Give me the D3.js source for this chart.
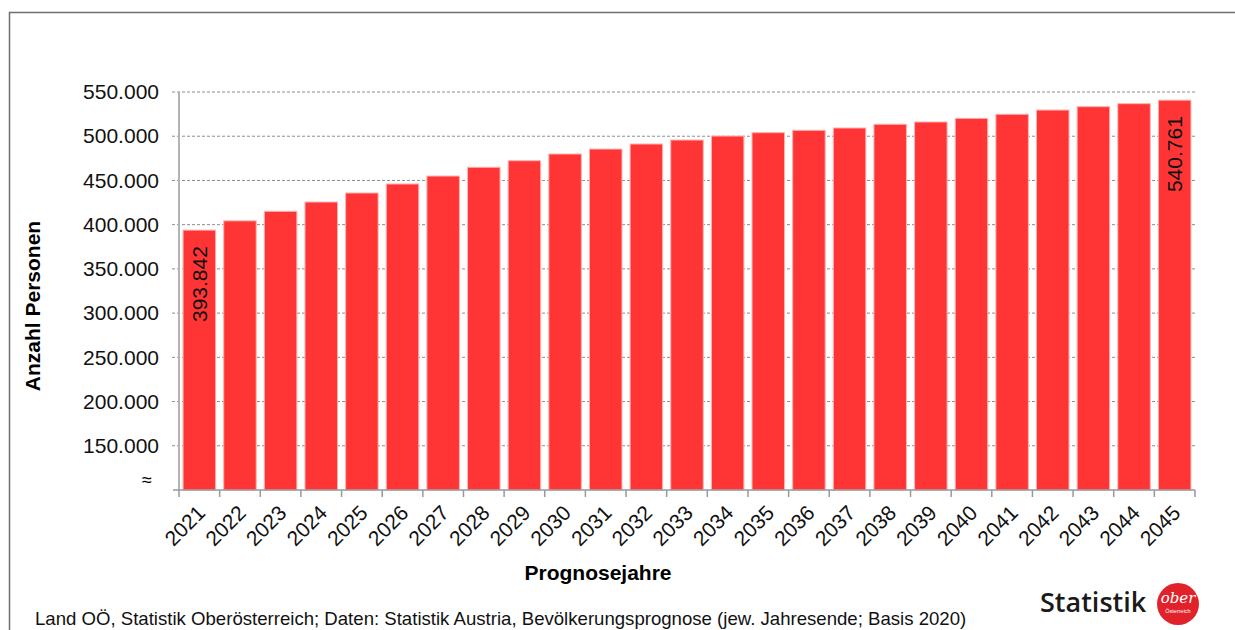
<!DOCTYPE html>
<html>
<head>
<meta charset="utf-8">
<script src="https://cdn.jsdelivr.net/npm/d3@7/dist/d3.min.js"></script>
<style>
  body { margin: 0; background: #fff; }
  svg { display: block; font-family: "Liberation Sans", Arial, sans-serif; }
</style>
</head>
<body>
<svg id="chart" width="1235" height="630"></svg>
<script>
// Prognosejahre und Bevölkerung (Oberösterreich)
const years = ["2021", "2022", "2023", "2024", "2025", "2026", "2027", "2028", "2029", "2030",
  "2031", "2032", "2033", "2034", "2035", "2036", "2037", "2038", "2039", "2040",
  "2041", "2042", "2043", "2044", "2045"];
const persons = [393842, 404300, 415100, 425600, 435800, 446000, 455000, 464900, 472300, 479900,
  485500, 491200, 495700, 500200, 504000, 506700, 509300, 513500, 516100, 520200,
  524800, 529600, 533400, 536800, 540761];
const yTicks = [150000, 200000, 250000, 300000, 350000, 400000, 450000, 500000, 550000];
const labelled = ["2021", "2045"];

const de = d3.formatLocale({ decimal: ",", thousands: ".", grouping: [3], currency: ["", " €"] });
const fmt = de.format(",.0f");

const svg = d3.select("#chart");

// Rahmen
svg.append("rect")
  .attr("x", 9.5).attr("y", 12.5)
  .attr("width", 1400).attr("height", 800)
  .attr("fill", "none")
  .attr("stroke", "#6e6e6e")
  .attr("stroke-width", 1.5);

const plotLeft = 179, plotRight = 1195, plotTop = 92, plotBottom = 490;

const x = d3.scaleBand()
  .domain(years)
  .range([plotLeft, plotRight])
  .paddingInner(0.2)
  .paddingOuter(0.1);

const y = d3.scaleLinear()
  .domain([100000, 550000])
  .range([plotBottom, plotTop]);

// Gitternetz
svg.append("g")
  .selectAll("line")
  .data(yTicks)
  .enter()
  .append("line")
  .attr("x1", plotLeft - 7)
  .attr("x2", plotRight)
  .attr("y1", d => y(d))
  .attr("y2", d => y(d))
  .attr("stroke", "#8c8c8c")
  .attr("stroke-width", 1)
  .attr("stroke-dasharray", "3,2");

// y-Achse
const yAxis = svg.append("g")
  .attr("transform", "translate(" + plotLeft + ",0)")
  .call(d3.axisLeft(y).tickValues(yTicks).tickFormat(fmt).tickSize(0).tickPadding(20));
yAxis.select(".domain").remove();
yAxis.selectAll("text")
  .style("font-size", "21px")
  .attr("fill", "#111");

svg.append("line")
  .attr("x1", plotLeft).attr("x2", plotLeft)
  .attr("y1", plotTop).attr("y2", plotBottom)
  .attr("stroke", "#b3b3b3")
  .attr("stroke-width", 2);

svg.append("text")
  .attr("x", plotLeft - 32)
  .attr("y", y(110000))
  .attr("text-anchor", "middle")
  .attr("dominant-baseline", "middle")
  .style("font-size", "18px")
  .text("≈");

// Balken
svg.selectAll(".bar")
  .data(years)
  .enter()
  .append("rect")
  .attr("class", "bar")
  .attr("x", d => x(d))
  .attr("y", (d, i) => y(persons[i]))
  .attr("width", x.bandwidth())
  .attr("height", (d, i) => plotBottom - y(persons[i]))
  .attr("fill", "#ff3535")
  .attr("stroke", "#ffb0b0")
  .attr("stroke-width", 1);

// x-Achse
const step = x.step();
const xAxis = svg.append("g")
  .attr("transform", "translate(0," + plotBottom + ")");
xAxis.append("line")
  .attr("x1", plotLeft - 6).attr("x2", plotRight)
  .attr("stroke", "#999").attr("stroke-width", 1.5);
xAxis.selectAll(".tick-mark")
  .data(d3.range(years.length + 1))
  .enter()
  .append("line")
  .attr("class", "tick-mark")
  .attr("x1", i => plotLeft + i * step)
  .attr("x2", i => plotLeft + i * step)
  .attr("y1", 0).attr("y2", 7)
  .attr("stroke", "#999").attr("stroke-width", 1.5);

xAxis.selectAll(".xlab")
  .data(years)
  .enter()
  .append("text")
  .attr("class", "xlab")
  .attr("transform", d => "translate(" + (x(d) + x.bandwidth() / 2 + 2) + ",19) rotate(-45)")
  .attr("text-anchor", "end")
  .attr("dy", "0.35em")
  .style("font-size", "21px")
  .attr("fill", "#111")
  .text(d => d);

// Datenbeschriftung
svg.selectAll(".value-label")
  .data(years.filter(d => labelled.includes(d)))
  .enter()
  .append("text")
  .attr("class", "value-label")
  .attr("transform", d => "translate(" + (x(d) + x.bandwidth() / 2) + "," + (y(persons[years.indexOf(d)]) + 16) + ") rotate(-90)")
  .attr("text-anchor", "end")
  .attr("dy", "0.36em")
  .style("font-size", "21px")
  .attr("fill", "#111")
  .text(d => fmt(persons[years.indexOf(d)]));

// Achsentitel
svg.append("text")
  .attr("transform", "translate(40,306) rotate(-90)")
  .attr("text-anchor", "middle")
  .style("font-size", "21px")
  .style("font-weight", "bold")
  .text("Anzahl Personen");

svg.append("text")
  .attr("x", 598)
  .attr("y", 580)
  .attr("text-anchor", "middle")
  .style("font-size", "21px")
  .style("font-weight", "bold")
  .text("Prognosejahre");

// Quelle
svg.append("text")
  .attr("x", 35)
  .attr("y", 625)
  .style("font-size", "18.6px")
  .attr("fill", "#111")
  .text("Land OÖ, Statistik Oberösterreich; Daten: Statistik Austria, Bevölkerungsprognose (jew. Jahresende; Basis 2020)");

// Logo
const logo = svg.append("g");
logo.append("text")
  .attr("x", 1040)
  .attr("y", 612)
  .style("font-family", "'Open Sans', Lato, sans-serif")
  .style("font-size", "27px")
  .style("font-weight", "600")
  .attr("fill", "#1a1a1a")
  .text("Statistik");
logo.append("circle")
  .attr("cx", 1178).attr("cy", 604).attr("r", 21)
  .attr("fill", "#e2222b");
logo.append("text")
  .attr("x", 1178).attr("y", 603)
  .attr("text-anchor", "middle")
  .style("font-family", "'DejaVu Serif', serif")
  .style("font-style", "italic")
  .style("font-size", "15px")
  .attr("fill", "#fff")
  .text("ober");
logo.append("text")
  .attr("x", 1178).attr("y", 613)
  .attr("text-anchor", "middle")
  .style("font-size", "5.5px")
  .attr("fill", "#fff")
  .text("Österreich");
</script>
</body>
</html>
